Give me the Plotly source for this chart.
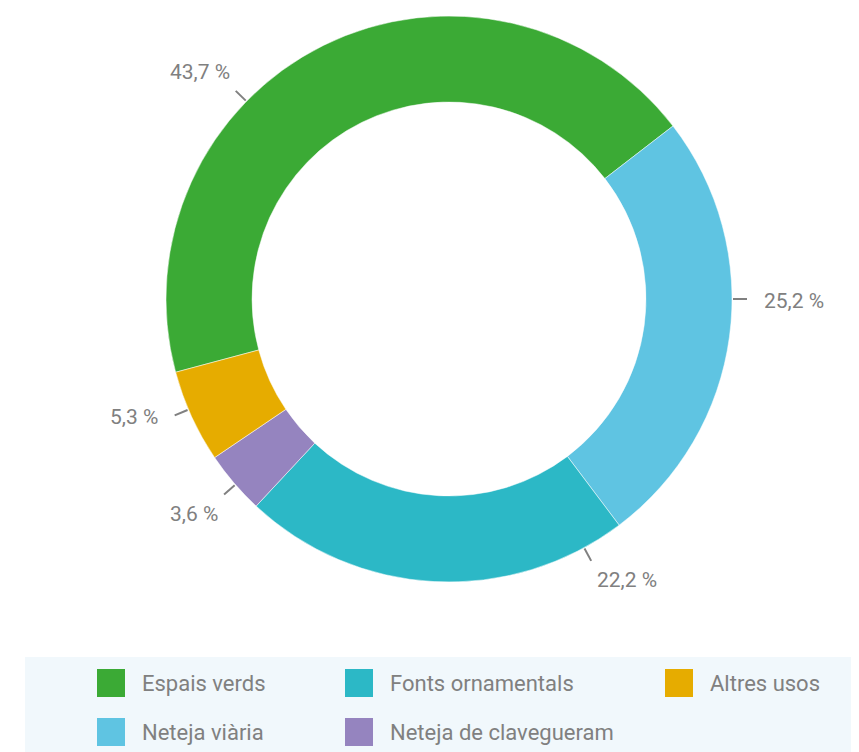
import math
import plotly.graph_objects as go

# ---- data ----
labels = ["Espais verds", "Neteja viària", "Fonts ornamentals", "Neteja de clavegueram", "Altres usos"]
values = [43.7, 25.2, 22.2, 3.6, 5.3]
colors = ["#3BAA35", "#5FC4E2", "#2CB8C6", "#9584BF", "#E6AC00"]
legend_order = ["Espais verds", "Fonts ornamentals", "Altres usos", "Neteja viària", "Neteja de clavegueram"]

# ---- layout constants (page pixel coordinates) ----
OFF = 8                     # page body margin
W, H = 859 - OFF, 752 - OFF  # figure size
CX, CY, R = 449, 299, 283
HOLE = 0.696
ROTATION = 255
# angular position (deg, clockwise from 12 o'clock) of each slice's outside label
label_angles = [-45.7, 90.0, 151.5, 229.0, 247.0]
TEXT_COLOR = "#808080"
FONT = "Roboto, Open Sans, sans-serif"


def px(x):
    return (x - OFF) / W


def py(y):
    return 1 - (y - OFF) / H


fig = go.Figure()
fig.add_trace(go.Pie(
    labels=labels, values=values, sort=False, direction="clockwise",
    rotation=ROTATION, hole=HOLE, textinfo="none", hoverinfo="label+percent",
    marker=dict(colors=colors, line=dict(color="white", width=0.5)),
    domain=dict(x=[px(CX - R), px(CX + R)], y=[py(CY + R), py(CY - R)]),
    showlegend=False,
))

shapes = []
annotations = []
for v, a in zip(values, label_angles):
    t = math.radians(a)
    sx, sy = math.sin(t), -math.cos(t)
    x0, y0 = CX + (R + 1) * sx, CY + (R + 1) * sy
    x1, y1 = CX + (R + 15) * sx, CY + (R + 15) * sy
    shapes.append(dict(type="line", xref="paper", yref="paper",
                       x0=px(x0), y0=py(y0), x1=px(x1), y1=py(y1),
                       line=dict(color="#808080", width=2)))
    sgn = 1 if sx > 0 else -1
    if abs(sy) < 0.5:
        xa, ya = ("left" if sx > 0 else "right"), "middle"
        xs, ys = 15 * sgn, -2
    else:
        xa = "left" if sx > 0 else "right"
        ya = "top" if sy > 0 else "bottom"
        xs = 4 * sgn
        ys = -5 if sy > 0 else 5
    annotations.append(dict(xref="paper", yref="paper", x=px(x1), y=py(y1),
                            xanchor=xa, yanchor=ya, xshift=xs, yshift=ys,
                            showarrow=False,
                            text=f"{v:.1f}".replace(".", ",") + " %",
                            font=dict(size=21, color=TEXT_COLOR, family=FONT)))

# legend background
shapes.append(dict(type="rect", xref="paper", yref="paper", layer="below",
                   x0=px(25), x1=1, y0=0, y1=py(657),
                   fillcolor="#F1F8FC", line=dict(width=0)))

col_x = [97, 345, 665]
row_y = [669, 718]
SQ = 28
for i, name in enumerate(legend_order):
    c = colors[labels.index(name)]
    x = col_x[i % 3]
    y = row_y[i // 3]
    shapes.append(dict(type="rect", xref="paper", yref="paper",
                       x0=px(x), x1=px(x + SQ), y0=py(y + SQ), y1=py(y),
                       fillcolor=c, line=dict(width=0)))
    annotations.append(dict(xref="paper", yref="paper", x=px(x + 43), y=py(y + SQ / 2),
                            xanchor="left", yanchor="middle", showarrow=False,
                            text=name, font=dict(size=22, color=TEXT_COLOR, family=FONT)))

fig.update_layout(
    width=W, height=H, margin=dict(l=0, r=0, t=0, b=0),
    paper_bgcolor="white", plot_bgcolor="white",
    shapes=shapes, annotations=annotations, showlegend=False,
)

fig.write_html("out.html")
